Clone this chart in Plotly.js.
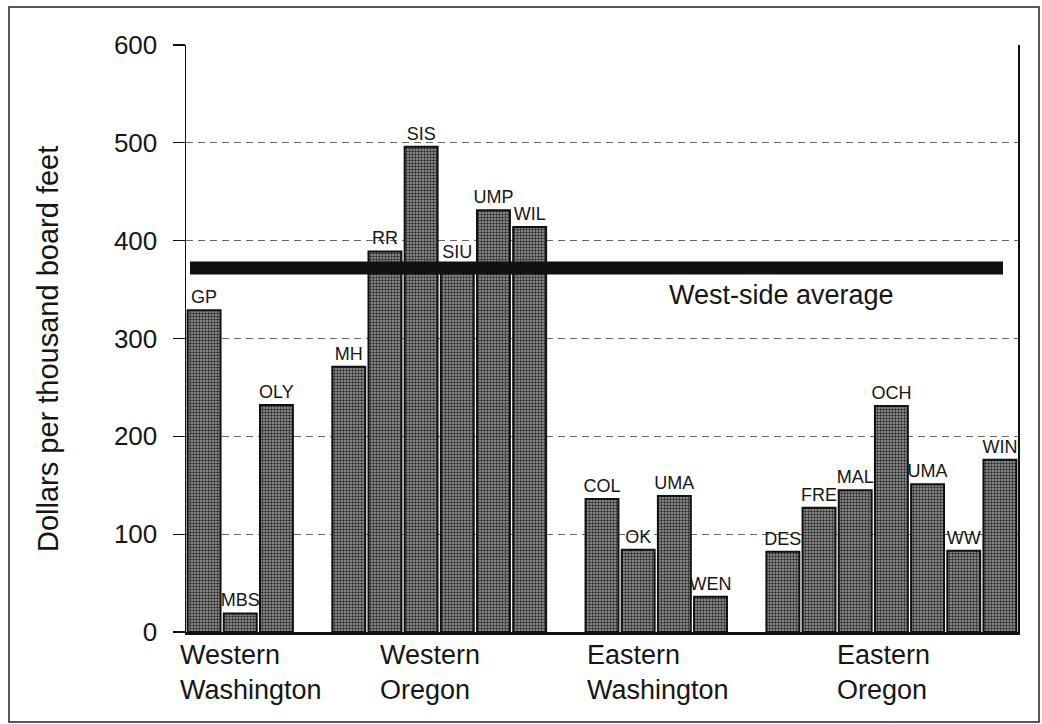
<!DOCTYPE html>
<html>
<head>
<meta charset="utf-8">
<script src="https://cdn.plot.ly/plotly-3.0.1.min.js"></script>
<style>
  html, body { margin: 0; padding: 0; background: #fff; }
  #chart { width: 1042px; height: 724px; }
</style>
</head>
<body>
<div id="chart"></div>
<script>
// ---------------- DATA ----------------
const groups = ['Western<br>Washington', 'Western<br>Oregon', 'Eastern<br>Washington', 'Eastern<br>Oregon'];
const groupSizes = [3, 6, 4, 7];
const stations = ['GP', 'MBS', 'OLY',
                  'MH', 'RR', 'SIS', 'SIU', 'UMP', 'WIL',
                  'COL', 'OK', 'UMA', 'WEN',
                  'DES', 'FRE', 'MAL', 'OCH', 'UMA', 'WW', 'WIN'];
const dollarsPerMBF = [329, 19, 232,
                       271, 389, 496, 375, 431, 414,
                       136, 84, 139, 36,
                       82, 127, 145, 231, 151, 83, 176];
const westSideAverage = 372;
const westSideLabel = 'West-side average';
const yTicks = [0, 100, 200, 300, 400, 500, 600];
const yTitle = 'Dollars per thousand board feet';

// ---------------- LAYOUT / STYLE ----------------
const W = 1042, H = 724;
const M = { l: 186, r: 24, t: 45, b: 92 };
const plotW = W - M.l - M.r, plotH = H - M.t - M.b;
const px2x = p => (p - M.l) / plotW;      // pixel -> paper x
const px2y = p => (H - M.b - p) / plotH;  // pixel -> paper y
const FONT = 'Liberation Sans, Arial, Helvetica, sans-serif';
const INK = '#161616';
const groupLabelLeftPx = [178, 378, 585, 835];

// slot positions: one empty slot between groups
const xPos = [];
let slot = 0;
groupSizes.forEach((n, g) => {
  for (let i = 0; i < n; i++) { xPos.push(slot); slot++; }
  if (g < groupSizes.length - 1) slot++;
});
const nSlots = slot;

const bars = {
  type: 'bar',
  x: xPos,
  y: dollarsPerMBF,
  text: stations,
  textposition: 'outside',
  constraintext: 'none',
  cliponaxis: false,
  textfont: { family: FONT, size: 18, color: INK },
  width: 0.91,
  marker: {
    color: '#8a8a8a',
    line: { color: '#111', width: 2 },
    pattern: { shape: '.', bgcolor: '#a0a0a0', fgcolor: '#2a2a2a', size: 3, solidity: 0.5, fillmode: 'replace' }
  },
  hoverinfo: 'skip',
  showlegend: false
};

const annotations = groups.map((g, i) => ({
  text: g, xref: 'paper', yref: 'paper',
  x: px2x(groupLabelLeftPx[i]), y: px2y(638),
  xanchor: 'left', yanchor: 'top', align: 'left', showarrow: false,
  font: { family: FONT, size: 27, color: INK }
}));
annotations.push({
  text: westSideLabel, xref: 'paper', yref: 'y',
  x: px2x(781), y: westSideAverage, yshift: -27,
  xanchor: 'center', yanchor: 'middle', showarrow: false,
  font: { family: FONT, size: 27, color: INK }
});
annotations.push({
  text: yTitle, xref: 'paper', yref: 'paper',
  x: px2x(48), y: px2y(349), textangle: -90,
  xanchor: 'center', yanchor: 'middle', showarrow: false,
  font: { family: FONT, size: 29, color: INK }
});

const shapes = [
  { type: 'line', xref: 'paper', yref: 'y', x0: px2x(190), x1: px2x(1003),
    y0: westSideAverage, y1: westSideAverage,
    line: { color: '#111', width: 13 }, layer: 'above' },
  { type: 'rect', xref: 'paper', yref: 'paper',
    x0: px2x(9), x1: px2x(1039), y0: px2y(722), y1: px2y(7),
    line: { color: '#222', width: 1.5 }, layer: 'below' }
];

const layout = {
  width: W, height: H,
  margin: M,
  paper_bgcolor: '#fff', plot_bgcolor: '#fff',
  font: { family: FONT, color: INK },
  bargap: 0,
  xaxis: {
    range: [-0.5, nSlots - 0.5],
    showticklabels: false, showgrid: false, zeroline: false, ticks: '',
    showline: true, linecolor: '#111', linewidth: 3, fixedrange: true
  },
  yaxis: {
    range: [0, 600],
    tickvals: yTicks, ticktext: yTicks.map(String),
    ticks: 'outside', ticklen: 12, tickwidth: 1.2, tickcolor: '#111',
    ticklabelstandoff: 10,
    tickfont: { family: FONT, size: 26, color: INK },
    showline: true, linecolor: '#111', linewidth: 1.5, mirror: true,
    showgrid: true, gridcolor: '#666', gridwidth: 1, griddash: '7px,5px',
    zeroline: false, fixedrange: true
  },
  annotations: annotations,
  shapes: shapes
};

Plotly.newPlot('chart', [bars], layout, { displayModeBar: false, staticPlot: true });
</script>
</body>
</html>
